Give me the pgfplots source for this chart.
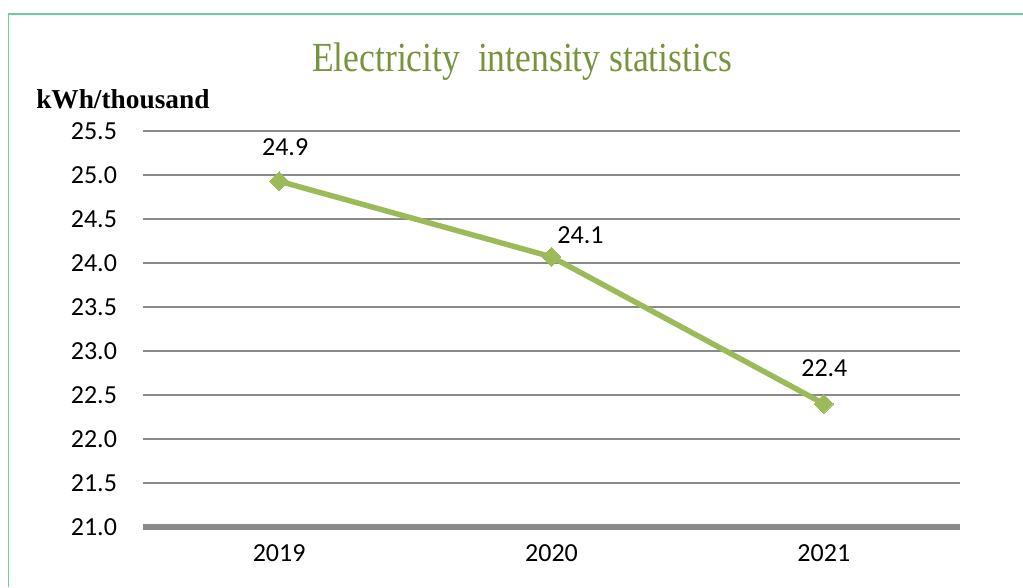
\documentclass[border=0pt]{standalone}
\usepackage{fontspec}
\setmainfont{Liberation Serif}
\newfontfamily\calib{Carlito}
\usepackage{pgfplots}
\usepackage{pgfplotstable}
\pgfplotsset{compat=1.18}
\definecolor{linegreen}{HTML}{9BBB59}
\definecolor{titlegreen}{HTML}{77933C}
\definecolor{gridgray}{HTML}{8A8A8A}
\definecolor{framegreen}{HTML}{6CCF99}
\pgfplotstableread{
x y lab dx dy
0 24.93 24.9 4.5 25.5
1 24.07 24.1 21.75 16
2 22.40 22.4 0.4 27
}\datatab
\begin{document}
\begin{tikzpicture}[x=0.75pt,y=0.75pt]
\useasboundingbox (0,0) rectangle (1023,587);
\draw[framegreen, line width=1.2pt] (8.5,0) -- (8.5,573) -- (1023,573);
\node[titlegreen, font=\fontsize{31}{36}\selectfont, anchor=base] at (522,515) {\scalebox{0.86}[1]{Electricity\ \ intensity statistics}};
\node[font=\fontsize{20.5}{24}\selectfont\bfseries, anchor=base west, inner sep=0pt] at (36,479) {kWh/thousand};
\begin{axis}[
  at={(107.25pt,45pt)}, anchor=south west,
  scale only axis, width=612.75pt, height=297pt,
  xmin=-0.5, xmax=2.5, ymin=21, ymax=25.5,
  xtick={0,1,2}, xticklabels={2019,2020,2021},
  ytick={21,21.5,...,25.5},
  yticklabel style={/pgf/number format/fixed, /pgf/number format/fixed zerofill, /pgf/number format/precision=1},
  /pgf/number format/assume math mode=true,
  ticklabel style={font=\calib\fontsize{19.5}{23}\selectfont, text=black},
  yticklabel style={xshift=-16pt},
  xticklabel style={yshift=-10pt},
  major tick length=0pt,
  ymajorgrids, grid style={gridgray, line width=1.1pt},
  axis lines*=left,
  x axis line style={gridgray, line width=4.5pt},
  y axis line style={draw=none},
  clip=false,
]
\addplot[linegreen, line width=4.1pt, mark=square*, mark size=5pt,
  mark options={rotate=45, line width=0pt, fill=linegreen, draw=linegreen},
  nodes near coords={\pgfmathprintnumber[fixed,fixed zerofill,precision=1]{\lab}},
  visualization depends on={\thisrow{lab} \as \lab},
  visualization depends on={\thisrow{dx} \as \dx},
  visualization depends on={\thisrow{dy} \as \dy},
  nodes near coords style={font=\calib\fontsize{19.5}{23}\selectfont, text=black, anchor=center, xshift=\dx pt, yshift=\dy pt, inner sep=0pt},
] table[x=x, y=y] {\datatab};
\end{axis}
\end{tikzpicture}
\end{document}
